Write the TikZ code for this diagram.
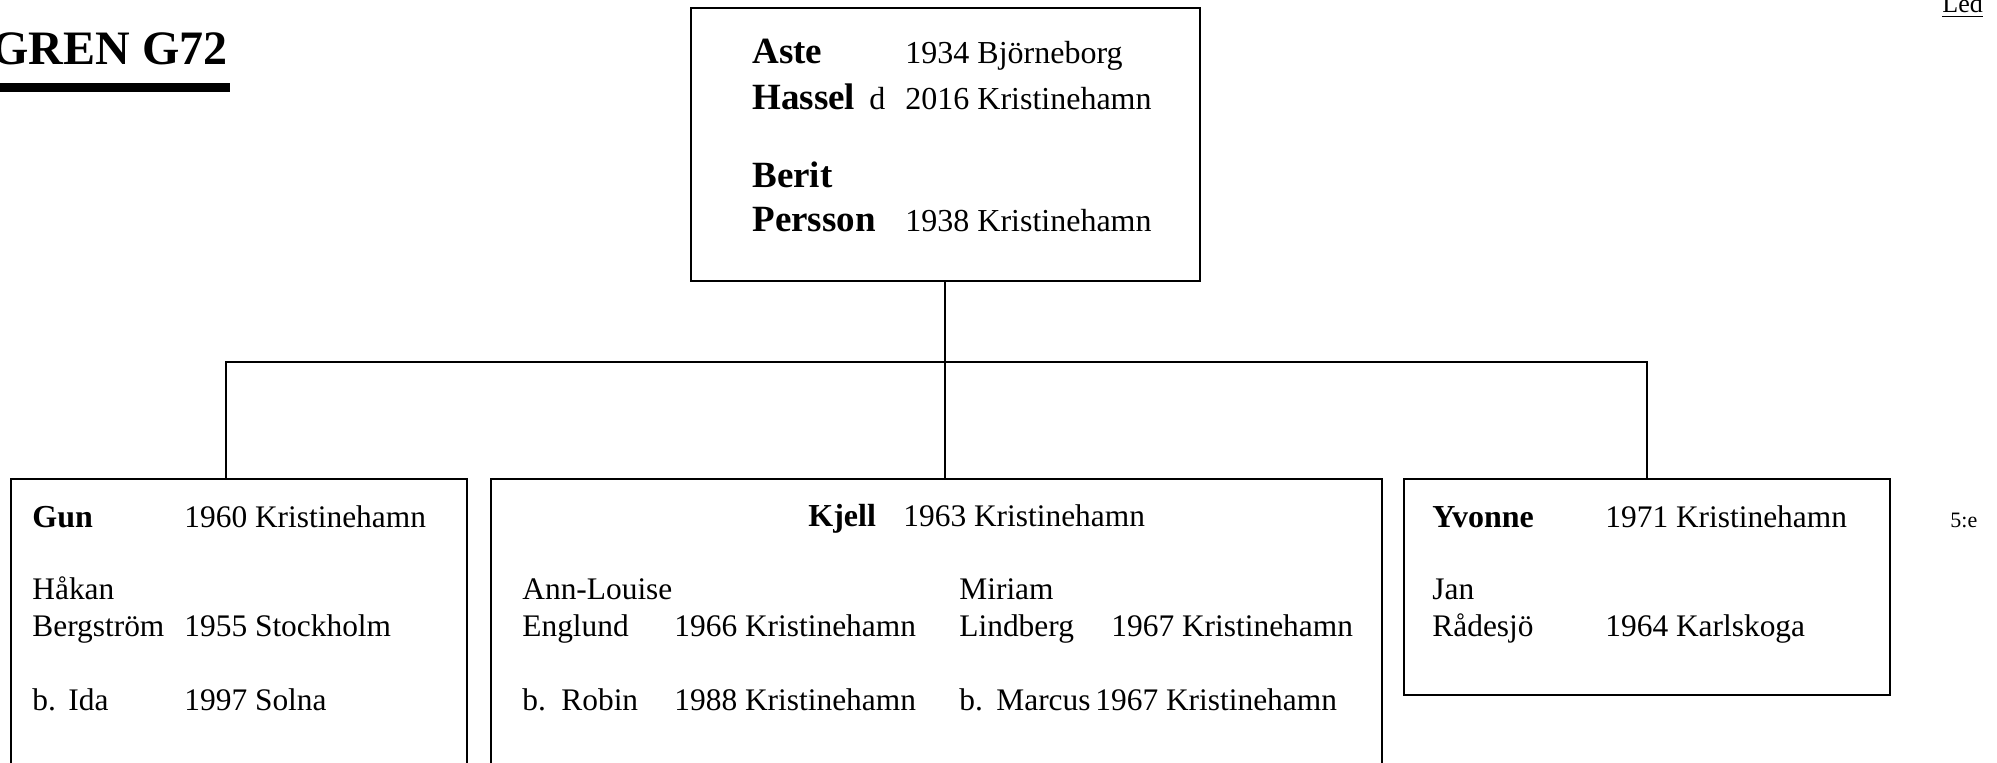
\documentclass[tikz,border=0pt]{standalone}
\usepackage{fontspec}
\setmainfont{Liberation Serif}
\usetikzlibrary{positioning}

\begin{document}
\begin{tikzpicture}[x = 0.5pt, y = -0.5pt,
	info/.style = {anchor = base west, inner sep = 0pt, font = \fontsize{15.7}{19}\selectfont},
	topinfo/.style = {info, font = \fontsize{16}{19}\selectfont},
	person/.style = {info, font = \fontsize{16}{20}\selectfont\bfseries},
	topperson/.style = {info, font = \fontsize{18.5}{22}\selectfont\bfseries},
	fambox/.style = {draw, line width = 1pt, anchor = north west, inner sep = 0pt}]
	\useasboundingbox (0, 0) rectangle (1997, 763);
	% rubrik
	\node (title) at (228, 65) [anchor = base east, inner sep = 0pt, font = \fontsize{24}{28}\selectfont\bfseries] {GREN G72};
	\fill [black] (0, 83) rectangle (230, 92);
	\node (led) at (1942, 13) [info, font = \fontsize{13}{15}\selectfont] {\underline{Led}};
	\node (gen) at (1950, 528) [info, font = \fontsize{11}{13}\selectfont] {5:e};
	% foraldrar
	\node (parents) at (690, 7) [fambox, minimum width = 254.25pt, minimum height = 136.5pt] {};
	\node (aste) at (752, 64) [topperson] {Aste};
	\node (asteborn) at (905, 64) [topinfo] {1934 Björneborg};
	\node (hassel) at (752, 110) [topperson] {Hassel};
	\node (hasseld) at (869, 110) [topinfo] {d};
	\node (hasseldied) at (905, 110) [topinfo] {2016 Kristinehamn};
	\node (berit) at (752, 188) [topperson] {Berit};
	\node (persson) at (752, 232) [topperson] {Persson};
	\node (beritborn) at (905, 232) [topinfo] {1938 Kristinehamn};
	% barn
	\node (gunbox) at (10, 478) [fambox, minimum width = 228pt, minimum height = 200pt] {};
	\node (kjellbox) at (490, 478) [fambox, minimum width = 445.5pt, minimum height = 200pt] {};
	\node (yvonnebox) at (1403, 478) [fambox, minimum width = 243pt, minimum height = 108pt] {};
	% Gun
	\node (gun) at (32, 528) [person] {Gun};
	\node (gunborn) at (184, 528) [info] {1960 Kristinehamn};
	\node (hakan) at (32, 600) [info] {Håkan};
	\node (bergstrom) at (32, 637) [info] {Bergström};
	\node (hakanborn) at (184, 637) [info] {1955 Stockholm};
	\node (gunb) at (32, 711) [info] {b.};
	\node (ida) at (68, 711) [info] {Ida};
	\node (idaborn) at (184, 711) [info] {1997 Solna};
	% Kjell
	\node (kjell) at (808, 527) [person] {Kjell};
	\node (kjellborn) at (903, 527) [info] {1963 Kristinehamn};
	\node (annlouise) at (522, 600) [info] {Ann-Louise};
	\node (englund) at (522, 637) [info] {Englund};
	\node (annborn) at (674, 637) [info] {1966 Kristinehamn};
	\node (miriam) at (959, 600) [info] {Miriam};
	\node (lindberg) at (959, 637) [info] {Lindberg};
	\node (miriamborn) at (1111, 637) [info] {1967 Kristinehamn};
	\node (robinb) at (522, 711) [info] {b.};
	\node (robin) at (561, 711) [info] {Robin};
	\node (robinborn) at (674, 711) [info] {1988 Kristinehamn};
	\node (marcusb) at (959, 711) [info] {b.};
	\node (marcus) at (996, 711) [info] {Marcus};
	\node (marcusborn) at (1095, 711) [info] {1967 Kristinehamn};
	% Yvonne
	\node (yvonne) at (1432, 528) [person] {Yvonne};
	\node (yvonneborn) at (1605, 528) [info] {1971 Kristinehamn};
	\node (jan) at (1432, 600) [info] {Jan};
	\node (radesjo) at (1432, 637) [info] {Rådesjö};
	\node (janborn) at (1605, 637) [info] {1964 Karlskoga};
	% linjer
	\coordinate (bar) at (946, 362);
	\coordinate (gundrop) at (226, 478);
	\draw [line width = 1pt] (parents.south) -- (parents.south |- kjellbox.north);
	\draw [line width = 1pt] (gundrop) |- (bar) -| (yvonnebox.north);
\end{tikzpicture}
\end{document}
